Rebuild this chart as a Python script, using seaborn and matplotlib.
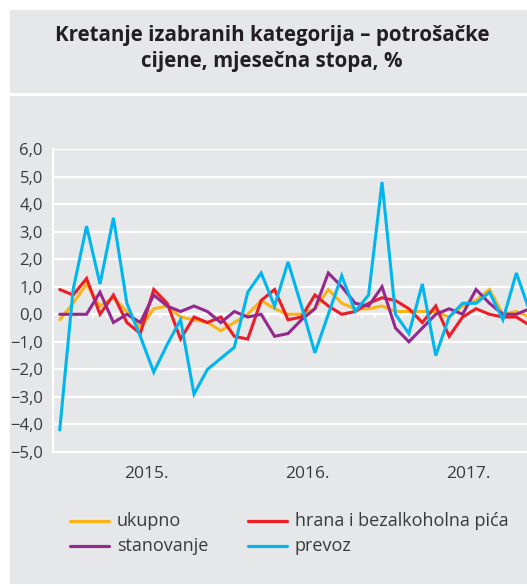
import matplotlib
matplotlib.use("Agg")
import numpy as np
import pandas as pd
import matplotlib.pyplot as plt
import seaborn as sns
from matplotlib.patches import Rectangle
from matplotlib.lines import Line2D
from matplotlib.ticker import FixedLocator, FuncFormatter, NullFormatter

# mjesecne stope, jan 2015 - dec 2017
godine = ["2015.", "2016.", "2017."]
ukupno = [-0.2, 0.4, 1.1, 0.3, 0.6, 0.1, -0.5, 0.2, 0.3, -0.1, -0.2, -0.3,
          -0.6, -0.3, 0.0, 0.5, 0.2, 0.0, 0.0, 0.2, 0.9, 0.4, 0.2, 0.2,
          0.3, 0.1, 0.1, 0.1, 0.1, -0.1, 0.3, 0.5, 0.9, 0.0, 0.1, -0.1]
hrana = [0.9, 0.7, 1.3, 0.0, 0.7, -0.3, -0.7, 0.9, 0.4, -0.9, -0.1, -0.3,
         -0.1, -0.8, -0.9, 0.5, 0.9, -0.2, -0.1, 0.7, 0.3, 0.0, 0.1, 0.4,
         0.6, 0.5, 0.2, -0.3, 0.3, -0.8, -0.1, 0.2, 0.0, -0.1, -0.1, -0.4]
stanovanje = [0.0, 0.0, 0.0, 0.8, -0.3, 0.0, -0.3, 0.7, 0.3, 0.1, 0.3, 0.1,
              -0.3, 0.1, -0.1, 0.0, -0.8, -0.7, -0.2, 0.2, 1.5, 1.0, 0.4, 0.3,
              1.0, -0.5, -1.0, -0.5, 0.0, 0.2, 0.0, 0.9, 0.4, 0.0, 0.0, 0.2]
prevoz = [-4.2, 0.9, 3.2, 1.1, 3.5, 0.4, -0.8, -2.1, -1.1, -0.2, -2.9, -2.0,
          -1.6, -1.2, 0.8, 1.5, 0.3, 1.9, 0.3, -1.4, 0.0, 1.4, 0.1, 0.7,
          4.8, 0.0, -0.7, 1.1, -1.5, -0.1, 0.4, 0.4, 0.8, -0.2, 1.5, 0.1]

kategorije = ["ukupno", "hrana i bezalkoholna pića", "stanovanje", "prevoz"]
boje = ["#FBB416", "#EE1C25", "#95288F", "#00B6F0"]

serije = [ukupno, hrana, stanovanje, prevoz]
df = pd.DataFrame({
    "mjesec": np.tile(np.arange(len(ukupno)), len(serije)),
    "stopa": np.concatenate(serije),
    "kategorija": np.repeat(kategorije, len(ukupno)),
})

W, H = 527, 586
SIVA = "#E6E7E8"
TEKST = "#3A3A3A"

sns.set_theme(style="white")
plt.rcParams["font.family"] = ["Open Sans", "DejaVu Sans"]
plt.rcParams["lines.solid_joinstyle"] = "miter"

fig = plt.figure(figsize=(W / 100, H / 100), dpi=100, facecolor="white")


def fx(px):
    return px / W


def fy(py):
    return 1 - py / H


# sive podloge (naslov i grafikon)
fig.add_artist(Rectangle((fx(10), fy(93)), fx(W - 10), (93 - 10) / H,
                         facecolor=SIVA, edgecolor="none", zorder=-10))
fig.add_artist(Rectangle((fx(10), fy(584)), fx(W - 10), (584 - 96) / H,
                         facecolor=SIVA, edgecolor="none", zorder=-10))

fig.text(fx(272), fy(36), "Kretanje izabranih kategorija – potrošačke",
         ha="center", va="center", fontsize=14.8, fontweight="bold", color="#231F20")
fig.text(fx(272), fy(61), "cijene, mjesečna stopa, %",
         ha="center", va="center", fontsize=14.8, fontweight="bold", color="#231F20")

mj = 13.43
ax = fig.add_axes([fx(53), (H - 452) / H, 36 * mj / W, (452 - 149) / H])
ax.set_facecolor("none")

sns.lineplot(data=df, x="mjesec", y="stopa", hue="kategorija",
             hue_order=kategorije, palette=boje, linewidth=2.2,
             legend=False, ax=ax)

ax.set_xlim(-0.5, 35.5)
ax.set_ylim(-5, 6)
ax.set_xlabel("")
ax.set_ylabel("")

for s in ["top", "right"]:
    ax.spines[s].set_visible(False)
ax.spines["left"].set_color("white")
ax.spines["left"].set_linewidth(1.6)
ax.spines["bottom"].set_color("white")
ax.spines["bottom"].set_linewidth(1.6)

ax.set_yticks(range(-5, 7))
ax.yaxis.set_major_formatter(FuncFormatter(
    lambda v, p: f"{v:.1f}".replace(".", ",").replace("-", "\u2212")))
ax.yaxis.grid(True, color="white", linewidth=1.6)
ax.set_axisbelow(True)
ax.tick_params(axis="y", length=5.8, width=1.6, color="white",
               labelsize=12, labelcolor=TEKST, pad=1.5)

granice = [-0.5, 11.5, 23.5, 35.5]
ax.xaxis.set_major_locator(FixedLocator(granice))
ax.xaxis.set_minor_locator(FixedLocator(np.arange(0.5, 35.5, 1)))
ax.xaxis.set_major_formatter(NullFormatter())
ax.tick_params(axis="x", which="major", length=22, width=1.6, color="white")
ax.tick_params(axis="x", which="minor", length=3.6, width=1.3, color="white")

# kvacice na nultoj liniji
nula = ax.secondary_xaxis(5 / 11)
nula.xaxis.set_major_locator(FixedLocator([]))
nula.xaxis.set_minor_locator(FixedLocator(np.arange(0.5, 35.5, 1)))
nula.xaxis.set_minor_formatter(NullFormatter())
nula.tick_params(axis="x", which="minor", length=3, width=1.3, color="white")
nula.spines["bottom"].set_color("white")
nula.spines["bottom"].set_linewidth(1.6)

for i, g in enumerate(godine):
    ax.annotate(g, xy=(5.5 + 12 * i, 0), xycoords=("data", "axes fraction"),
                xytext=(9, -16), textcoords="offset points",
                ha="center", va="center", fontsize=12.5, color=TEKST)

# legenda
stavke = [(kategorije[0], boje[0], 70, 521), (kategorije[1], boje[1], 248, 521),
          (kategorije[2], boje[2], 70, 546), (kategorije[3], boje[3], 248, 546)]
for naziv, boja, x0, y0 in stavke:
    fig.add_artist(Line2D([fx(x0), fx(x0 + 39)], [fy(y0), fy(y0)],
                          color=boja, linewidth=2.3))
    fig.text(fx(x0 + 47), fy(y0), naziv, ha="left", va="center",
             fontsize=13, color=TEKST)

fig.savefig("out.png", dpi=100, facecolor="white")
